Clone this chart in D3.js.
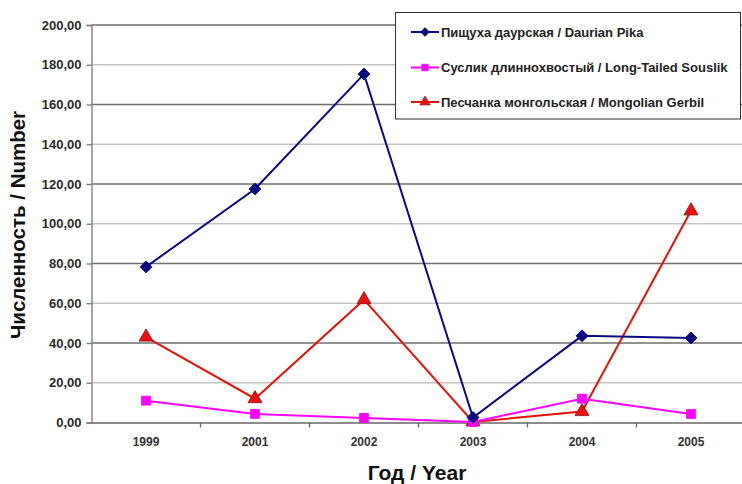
<!DOCTYPE html>
<html>
<head>
<meta charset="utf-8">
<script src="https://cdn.jsdelivr.net/npm/d3@7"></script>
<style>
  body { margin: 0; background: #fff; }
  text { font-family: "Liberation Sans", Arial, sans-serif; }
</style>
</head>
<body>
<div id="main"></div>
<script>
const years = ["1999", "2001", "2002", "2003", "2004", "2005"];
const pika = [78.3, 117.5, 175.3, 2.5, 43.6, 42.5];
const souslik = [11.0, 4.3, 2.3, 0.3, 12.0, 4.3];
const gerbil = [43.0, 12.0, 61.8, 0.3, 5.5, 106.5];
const yTicks = [0, 20, 40, 60, 80, 100, 120, 140, 160, 180, 200];
const seriesNames = [
    "Пищуха даурская / Daurian Pika",
    "Суслик длиннохвостый / Long-Tailed Souslik",
    "Песчанка монгольская / Mongolian Gerbil"
];

const ctx = { w: 742, h: 484 };

function createChart(svgEl) {
    const left = 91.5, top = 25, plotH = 397.5;
    const xScale = d3.scaleBand()
                     .range([left, left + 109 * years.length])
                     .domain(years);
    const yScale = d3.scaleLinear()
                     .range([top + plotH, top])
                     .domain([0, 200]);

    // grid (alternating dark / light like the scanned original)
    svgEl.append("g").selectAll("line")
         .data(yTicks.slice(1))
         .enter().append("line")
         .attr("x1", left).attr("x2", ctx.w)
         .attr("y1", d => yScale(d)).attr("y2", d => yScale(d))
         .attr("stroke", d => (d / 20) % 2 === 0 ? "#6e6e6e" : "#c4c4c4")
         .attr("stroke-width", 1.4);

    // y axis
    const yAxis = svgEl.append("g")
        .attr("transform", `translate(${left},0)`)
        .call(d3.axisLeft(yScale).tickValues(yTicks).tickSize(5)
              .tickFormat(d => d3.format(".2f")(d).replace(".", ",")));
    yAxis.select(".domain").attr("stroke", "#777").attr("stroke-width", 1.3);
    yAxis.selectAll(".tick line").attr("stroke", "#777").attr("stroke-width", 1.3);
    yAxis.selectAll(".tick text")
         .attr("x", -10)
         .style("font-size", "13px")
         .style("font-weight", "bold")
         .style("fill", "#2a2a2a");

    // x axis
    const xAxis = svgEl.append("g")
        .attr("transform", `translate(0,${yScale(0)})`)
        .call(d3.axisBottom(xScale).tickSize(0).tickPadding(15));
    xAxis.select(".domain").attr("stroke", "#666").attr("stroke-width", 1.5);
    xAxis.selectAll(".tick text")
         .style("font-size", "12px")
         .style("font-weight", "bold")
         .style("fill", "#333");
    svgEl.append("g").selectAll("line")
         .data(years)
         .enter().append("line")
         .attr("x1", d => xScale(d) + xScale.bandwidth())
         .attr("x2", d => xScale(d) + xScale.bandwidth())
         .attr("y1", yScale(0)).attr("y2", yScale(0) + 5)
         .attr("stroke", "#666").attr("stroke-width", 1.3);

    const cx = d => xScale(d) + xScale.bandwidth() / 2;

    const series = [
        { values: pika, color: "#0a0a80", symbol: d3.symbolSquare, rot: 45, size: 72, fill: "#0a0a80", stroke: "#0a0a80" },
        { values: souslik, color: "#ff00ff", symbol: d3.symbolSquare, rot: 0, size: 80, fill: "#ff00ff", stroke: "#ff00ff" },
        { values: gerbil, color: "#e8100a", symbol: d3.symbolTriangle, rot: 0, size: 85, fill: "#ee1010", stroke: "#801010" }
    ];

    const line = d3.line().x(d => cx(d.year)).y(d => yScale(d.v));

    // draw gerbil first so pika on top, as in the original
    [2, 1, 0].forEach(i => {
        const s = series[i];
        const pts = years.map((y, j) => ({ year: y, v: s.values[j] }));
        svgEl.append("path")
             .datum(pts)
             .attr("d", line)
             .attr("fill", "none")
             .attr("stroke", s.color)
             .attr("stroke-width", 2);
        svgEl.append("g").selectAll("path")
             .data(pts)
             .enter().append("path")
             .attr("transform", d => `translate(${cx(d.year)},${yScale(d.v)}) rotate(${s.rot})`)
             .attr("d", d3.symbol().type(s.symbol).size(s.size))
             .attr("fill", s.fill)
             .attr("stroke", s.stroke)
             .attr("stroke-width", 0.8);
    });

    // legend
    const legend = svgEl.append("g");
    legend.append("rect")
          .attr("x", 395.5).attr("y", 12.5)
          .attr("width", 345).attr("height", 106.5)
          .attr("fill", "#fff")
          .attr("stroke", "#333")
          .attr("stroke-width", 1);
    const rowsY = [32, 67.5, 102];
    series.forEach((s, i) => {
        const row = legend.append("g").attr("transform", `translate(0,${rowsY[i]})`);
        row.append("line")
           .attr("x1", 411).attr("x2", 439)
           .attr("y1", 0).attr("y2", 0)
           .attr("stroke", s.color).attr("stroke-width", 2);
        row.append("path")
           .attr("transform", `translate(425,0) rotate(${s.rot})`)
           .attr("d", d3.symbol().type(s.symbol).size(s.size * 0.55))
           .attr("fill", s.fill)
           .attr("stroke", s.stroke)
           .attr("stroke-width", 0.6);
        row.append("text")
           .attr("x", 441)
           .attr("y", 4.5)
           .style("font-size", "13px")
           .style("font-weight", "bold")
           .style("fill", "#222")
           .text(seriesNames[i]);
    });

    // titles
    svgEl.append("text")
         .attr("transform", `translate(25,225) rotate(-90)`)
         .attr("text-anchor", "middle")
         .style("font-size", "20.5px")
         .style("font-weight", "bold")
         .style("fill", "#111")
         .text("Численность / Number");
    svgEl.append("text")
         .attr("x", 417)
         .attr("y", 480)
         .attr("text-anchor", "middle")
         .style("font-size", "21px")
         .style("font-weight", "bold")
         .style("fill", "#111")
         .text("Год / Year");
}

function createViz() {
    const svgEl = d3.select("#main").append("svg")
      .attr("width", ctx.w)
      .attr("height", ctx.h);
    createChart(svgEl);
}
createViz();
</script>
</body>
</html>
